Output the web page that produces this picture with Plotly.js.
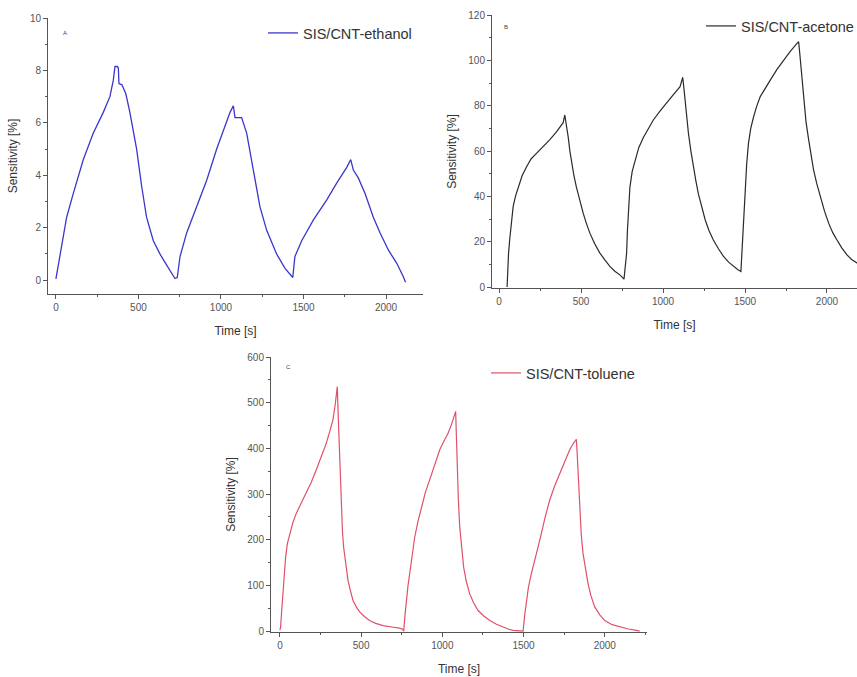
<!DOCTYPE html>
<html>
<head>
<meta charset="utf-8">
<script src="https://cdn.plot.ly/plotly-3.0.1.min.js"></script>
<style>html,body{margin:0;padding:0;background:#fff;}#chart{width:857px;height:677px;}</style>
</head>
<body>
<div id="chart"></div>
<script>
// Panel A: ethanol
const ethanolTime = [0, 4, 34, 65, 105, 166, 226, 287, 327, 347, 358, 372, 378, 382, 400, 424, 448, 489, 519, 549, 590, 630, 671, 701, 721, 735, 752, 792, 853, 913, 974, 1014, 1055, 1075, 1085, 1125, 1156, 1196, 1236, 1277, 1337, 1388, 1428, 1435, 1448, 1489, 1560, 1640, 1701, 1762, 1786, 1802, 1832, 1873, 1923, 1964, 2014, 2065, 2105, 2118];
const ethanolSens = [0.05, 0.19, 1.4, 2.4, 3.3, 4.6, 5.6, 6.4, 7.0, 7.6, 8.15, 8.15, 8.1, 7.5, 7.45, 7.1, 6.4, 5.0, 3.6, 2.4, 1.5, 1.0, 0.57, 0.25, 0.06, 0.1, 0.9, 1.8, 2.8, 3.8, 5.0, 5.7, 6.4, 6.65, 6.2, 6.2, 5.6, 4.2, 2.8, 1.9, 1.0, 0.45, 0.13, 0.1, 0.9, 1.5, 2.3, 3.05, 3.7, 4.3, 4.6, 4.2, 3.9, 3.3, 2.4, 1.8, 1.15, 0.64, 0.13, -0.08];

// Panel B: acetone
const acetoneTime = [49, 53, 58, 65, 75, 86, 100, 116, 140, 167, 195, 228, 268, 310, 350, 391, 401,
  412, 422, 432, 442, 457, 472, 492, 513, 533, 554, 584, 615, 645, 676, 706, 737, 762,
  770, 778, 783, 788, 798, 812, 829, 852, 880, 910, 941, 980, 1022, 1062, 1104, 1120,
  1127, 1134, 1144, 1155, 1170, 1185, 1200, 1216, 1236, 1257, 1280, 1307, 1337, 1369, 1400, 1430, 1455, 1475,
  1480, 1487, 1494, 1501, 1510, 1521, 1535, 1552, 1570, 1593, 1620, 1654, 1695, 1735, 1776, 1817, 1827,
  1834, 1841, 1849, 1857, 1872, 1888, 1903, 1918, 1938, 1959, 1985, 2010, 2035, 2061, 2090, 2122, 2150, 2183, 2240];
const acetoneSens = [0, 8, 15, 21, 28.5, 35.5, 40, 44, 49, 53, 56.5, 59, 62, 65, 68.5, 72.5, 75.9,
  71, 66, 60, 55, 49, 44, 38, 32.6, 28, 23.8, 19, 15, 12, 9.1, 7, 5.4, 3.5,
  8, 15, 25, 33, 44, 51, 56, 61.5, 66, 70, 73.7, 77.5, 81, 84.8, 88.4, 92.5,
  88, 82.5, 75, 67.8, 60, 53, 47, 41, 35, 29.7, 25, 20.8, 17, 13.5, 11, 9.1, 7.8, 6.9,
  14, 23.8, 34, 44, 54, 63.4, 70, 75, 79.5, 84, 87.5, 91.3, 96, 100, 104, 107.5, 108.2,
  103, 97.2, 90, 82.5, 73, 65, 58, 51.7, 45.5, 40, 33.5, 28.2, 24, 20.8, 17.3, 14.2, 12.2, 10.6, 8.5];

// Panel C: toluene
const tolueneTime = [0, 4, 10, 18, 26, 35, 46, 60, 80, 101, 130, 162, 193, 224, 255, 285, 306, 326, 340, 353,
  360, 368, 373, 378, 385, 392, 405, 419, 435, 450, 470, 491, 520, 552, 590, 635, 690, 737, 755, 762,
  770, 778, 788, 799, 813, 830, 850, 871, 895, 922, 952, 984, 1010, 1035, 1056, 1076, 1082,
  1087, 1092, 1099, 1107, 1118, 1131, 1148, 1168, 1192, 1220, 1255, 1292, 1333, 1374, 1405, 1435, 1470, 1497,
  1507, 1517, 1530, 1548, 1572, 1600, 1630, 1661, 1692, 1723, 1754, 1784, 1805, 1825,
  1830, 1836, 1841, 1846, 1855, 1866, 1880, 1897, 1915, 1938, 1968, 2000, 2045, 2092, 2145, 2195, 2215];
const tolueneSens = [2, 8.8, 40, 82, 125, 162, 192, 214, 238, 258, 280, 301, 326, 353, 382, 411, 436, 462, 495, 535,
  460, 382, 320, 258, 218, 184, 145, 111, 87, 67, 53, 42, 32, 23, 17, 12, 9, 6.6, 4, 0,
  35, 67, 98, 126, 165, 206, 240, 272, 303, 331, 365, 397, 416, 433, 452, 473, 481,
  420, 345, 285, 228, 180, 140, 108, 82, 62, 45, 33, 23, 15, 8.8, 4.5, 1.5, 0.3, 0,
  35, 67, 96, 126, 163, 199, 245, 287, 318, 345, 372, 397, 410, 420,
  390, 345, 300, 258, 212, 170, 135, 104, 77, 53, 36, 23, 14, 8.8, 4.5, 1.5, 0];

const seriesNames = ['SIS/CNT-ethanol', 'SIS/CNT-acetone', 'SIS/CNT-toluene'];
const panelLabels = ['A', 'B', 'C'];
const xTitle = 'Time [s]';
const yTitle = 'Sensitivity [%]';

const FONT = 'Liberation Sans, Arial, sans-serif';
const W = 857, H = 677;
const fx = p => p / W;
const fy = p => 1 - p / H;

const traces = [
  {x: ethanolTime, y: ethanolSens, type: 'scatter', mode: 'lines', name: seriesNames[0],
   line: {color: '#3b36cc', width: 1.3}, xaxis: 'x', yaxis: 'y', legend: 'legend'},
  {x: acetoneTime, y: acetoneSens, type: 'scatter', mode: 'lines', name: seriesNames[1],
   line: {color: '#2a2a2a', width: 1.2}, xaxis: 'x2', yaxis: 'y2', legend: 'legend2'},
  {x: tolueneTime, y: tolueneSens, type: 'scatter', mode: 'lines', name: seriesNames[2],
   line: {color: '#e0506a', width: 1.2}, xaxis: 'x3', yaxis: 'y3', legend: 'legend3'}
];

function xax(domain, range, anchor) {
  return {
    domain: domain, range: range, anchor: anchor,
    showgrid: false, zeroline: false, showline: true, linecolor: '#555', linewidth: 1,
    ticks: 'outside', ticklen: 4, tickcolor: '#555', tickwidth: 1,
    tick0: 0, dtick: 500,
    minor: {ticks: 'outside', ticklen: 2, dtick: 250, tickcolor: '#555'},
    tickfont: {family: FONT, size: 10, color: '#555'},
    title: {text: xTitle, font: {family: FONT, size: 12, color: '#333'}, standoff: 14}
  };
}
function yax(domain, range, anchor, dtick) {
  return {
    domain: domain, range: range, anchor: anchor,
    showgrid: false, zeroline: false, showline: true, linecolor: '#555', linewidth: 1,
    ticks: 'outside', ticklen: 4, tickcolor: '#555', tickwidth: 1,
    tick0: 0, dtick: dtick,
    minor: {ticks: 'outside', ticklen: 2, dtick: dtick / 2, tickcolor: '#555'},
    tickfont: {family: FONT, size: 10, color: '#555'},
    title: {text: yTitle, font: {family: FONT, size: 12, color: '#333'}, standoff: 9}
  };
}

function leg(xp, yp) {
  return {x: fx(xp), y: fy(yp), xanchor: 'left', yanchor: 'middle',
    bgcolor: 'rgba(0,0,0,0)', borderwidth: 0,
    font: {family: FONT, size: 14.5, color: '#333'}, tracegroupgap: 0};
}

const layout = {
  width: W, height: H,
  margin: {l: 0, r: 0, t: 0, b: 0, autoexpand: false},
  paper_bgcolor: '#fff', plot_bgcolor: '#fff',
  showlegend: true,
  xaxis: xax([fx(48), fx(423)], [-48, 2224], 'y'),
  yaxis: yax([fy(294), fy(18)], [-0.53, 10], 'x', 2),
  xaxis2: xax([fx(492), 1], [-43, 2183], 'y2'),
  yaxis2: yax([fy(288), fy(15)], [-0.4, 120], 'x2', 20),
  xaxis3: xax([fx(271), fx(647)], [-55, 2260], 'y3'),
  yaxis3: yax([fy(632), fy(357)], [-2, 600], 'x3', 100),
  legend: leg(263, 33),
  legend2: leg(701, 26),
  legend3: leg(486, 373),
  annotations: [
    {xref: 'paper', yref: 'paper', x: fx(61), y: fy(28), text: panelLabels[0], showarrow: false,
     font: {family: FONT, size: 6, color: '#444'}},
    {xref: 'paper', yref: 'paper', x: fx(506), y: fy(22), text: panelLabels[1], showarrow: false,
     font: {family: FONT, size: 6, color: '#444'}},
    {xref: 'paper', yref: 'paper', x: fx(284), y: fy(367), text: panelLabels[2], showarrow: false,
     font: {family: FONT, size: 6, color: '#444'}}
  ]
};

Plotly.newPlot('chart', traces, layout, {staticPlot: true, displayModeBar: false});
</script>
</body>
</html>
